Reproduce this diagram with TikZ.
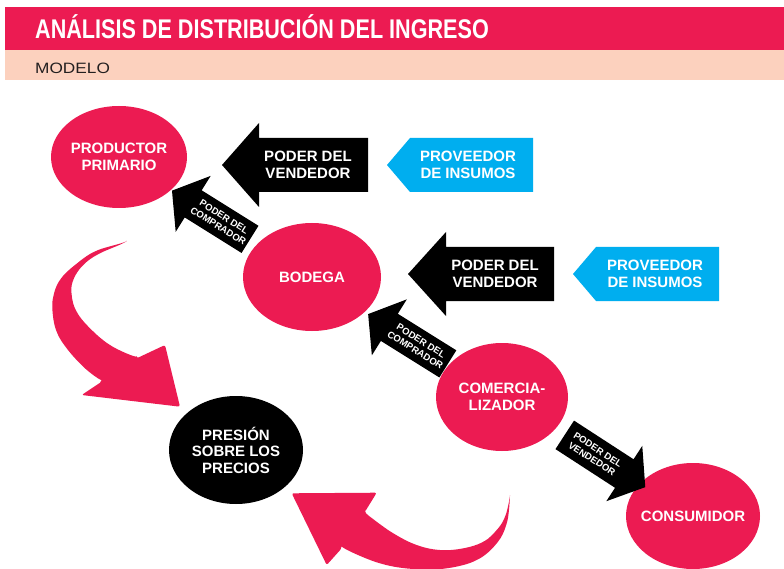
\documentclass[tikz,border=0pt]{standalone}
\usepackage{fontspec}
\usepackage{graphicx}
\setmainfont{Liberation Sans}
\definecolor{pinkred}{HTML}{EC1B52}
\definecolor{cyanbox}{HTML}{00AEEF}
\definecolor{peach}{HTML}{FCD1BE}
\definecolor{darktext}{HTML}{231F20}
\tikzset{
  circ/.style={ellipse, fill=pinkred, inner sep=0},
  ntext/.style={text=white, font=\fontsize{15}{16.5}\selectfont\bfseries, align=center, inner sep=0},
  stext/.style={text=white, font=\fontsize{9.5}{11}\selectfont\bfseries, align=center, inner sep=0},
}
\usetikzlibrary{shapes.geometric}
\begin{document}
\begin{tikzpicture}[x=1pt,y=-1pt]
\useasboundingbox (0,0) rectangle (784,569);
\fill[white] (0,0) rectangle (784,569);
% header
\fill[pinkred] (5,7) rectangle (784,50);
\fill[peach] (5,50) rectangle (784,80);
\node[anchor=base west, inner sep=0, text=white, font=\fontsize{27}{27}\selectfont\bfseries] (title) at (35,39)
  {\scalebox{0.8}[1]{ANÁLISIS DE DISTRIBUCIÓN DEL INGRESO}};
\node[anchor=base west, inner sep=0, text=darktext, font=\fontsize{15}{15}\selectfont] (modelo) at (35,74)
  {\scalebox{1.15}[1]{MODELO}};

% ellipses
\node[circ, minimum width=136, minimum height=102] (prod) at (119,157) {};
\node[circ, minimum width=138, minimum height=108] (bod) at (312,277) {};
\node[circ, minimum width=132, minimum height=108] (com) at (502,397) {};
\node[ellipse, fill=black, inner sep=0, minimum width=134, minimum height=108] (pres) at (236,450) {};
\node[circ, minimum width=134, minimum height=106] (cons) at (693,516) {};
\node[ntext] at (prod) {PRODUCTOR\\PRIMARIO};
\node[ntext] at (bod) {BODEGA};
\node[ntext] at (com) {COMERCIA-\\LIZADOR};
\node[ntext] at (pres) {PRESIÓN\\SOBRE LOS\\PRECIOS};
\node[ntext] at (cons) {CONSUMIDOR};

% big black arrows
\fill[black] (222,165) -- (259,123) -- (259,138) -- (368,138) -- (368,192) -- (259,192) -- (259,207) -- cycle;
\node[ntext] (v1) at (308,165) {PODER DEL\\VENDEDOR};
\fill[black] (408,274) -- (446,232) -- (446,247) -- (554,247) -- (554,301) -- (446,301) -- (446,316) -- cycle;
\node[ntext] (v2) at (495,274) {PODER DEL\\VENDEDOR};

% blue boxes
\fill[cyanbox] (387,165) -- (410,138) -- (533,138) -- (533,192) -- (410,192) -- cycle;
\node[ntext] (p1) at (468,165) {PROVEEDOR\\DE INSUMOS};
\fill[cyanbox] (573,274) -- (596,247) -- (719,247) -- (719,301) -- (596,301) -- cycle;
\node[ntext] (p2) at (655,274) {PROVEEDOR\\DE INSUMOS};

% small arrows
\begin{scope}[shift={(211,215)}, rotate=-32]
  \fill[black] (-46,0) -- (-21,33) -- (-21,16) -- (46,16) -- (46,-16) -- (-21,-16) -- (-21,-33) -- cycle;
  \node[stext, rotate=-32] (c1) at (12,0) {PODER DEL\\COMPRADOR};
\end{scope}
\begin{scope}[shift={(408,339)}, rotate=-32]
  \fill[black] (-47,0) -- (-22,33) -- (-22,16) -- (47,16) -- (47,-16) -- (-22,-16) -- (-22,-33) -- cycle;
  \node[stext, rotate=-32] (c2) at (12,0) {PODER DEL\\COMPRADOR};
\end{scope}
\begin{scope}[shift={(605,461)}, rotate=-33]
  \fill[black] (48,0) -- (23,33) -- (23,17) -- (-48,17) -- (-48,-17) -- (23,-17) -- (23,-33) -- cycle;
  \node[stext, rotate=-33] (v3) at (-12,0) {PODER DEL\\VENDEDOR};
\end{scope}

% curved red arrows
\fill[pinkred, rounded corners=2pt] plot[smooth, tension=0.6] coordinates {(126.7,242.7) (96.7,250.7) (75,265) (60,280) (53.3,296.7) (52.7,313.3) (56.7,331.7) (66.7,348.3) (83.3,366.7) (101.7,381.7)}
  -- (81.7,395) -- (180,406.7) -- (165,345)
  -- plot[smooth, tension=0.6] coordinates {(136.7,358.3) (110,345) (90,328.3) (76.7,311.7) (71.7,295) (73.3,280) (83.3,265) (100,253.3) (126.7,242.7)} -- cycle;
\fill[pinkred, rounded corners=2pt] plot[smooth, tension=0.6] coordinates {(510,497.3) (505,516.7) (496.7,530) (483.3,541.7) (463.3,548.3) (440,550) (416.7,545) (393.3,533.3) (370,516.7) (365,511.7)}
  -- (376.7,492.7) -- (291.7,493.3) -- (326.7,565)
  -- plot[smooth, tension=0.6] coordinates {(341.7,548.3) (380,563.3) (413.3,569) (446.7,568.3) (476.7,560) (496.7,543.3) (506.7,523.3) (510,497.3)} -- cycle;
\end{tikzpicture}
\end{document}
